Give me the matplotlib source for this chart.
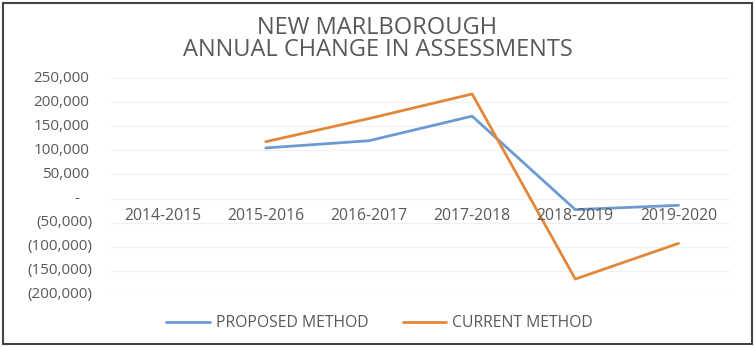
import matplotlib
matplotlib.use("Agg")
import matplotlib.pyplot as plt
from matplotlib.patches import Rectangle
from matplotlib.transforms import blended_transform_factory

# data
years = ["2014-2015", "2015-2016", "2016-2017", "2017-2018", "2018-2019", "2019-2020"]
proposed = [None, 105000, 120000, 171000, -23000, -14000]
current = [None, 118000, 166000, 217000, -167000, -93000]
y_ticks = [-200000, -150000, -100000, -50000, 0, 50000, 100000, 150000, 200000, 250000]

BLUE = "#6b9bd2"
ORANGE = "#e3873a"
TEXT = "#595959"

plt.rcParams["font.family"] = ["Open Sans", "DejaVu Sans"]

fig = plt.figure(figsize=(7.55, 3.47), dpi=100)
ax = fig.add_axes([0.147, 0.150, 0.820, 0.625])

xs = list(range(len(years)))
px = [x for x, v in zip(xs, proposed) if v is not None]
pv = [v for v in proposed if v is not None]
cx = [x for x, v in zip(xs, current) if v is not None]
cv = [v for v in current if v is not None]
ax.plot(px, pv, color=BLUE, lw=2.0, solid_capstyle="round", label="PROPOSED METHOD", zorder=3)
ax.plot(cx, cv, color=ORANGE, lw=2.0, solid_capstyle="round", label="CURRENT METHOD", zorder=3)

ax.set_xlim(-0.5, len(years) - 0.5)
ax.set_ylim(-200000, 250000)
ax.set_yticks(y_ticks)
ax.set_yticklabels([])
ax.tick_params(axis="y", length=0)
ax.grid(axis="y", color="#f1f1f1", lw=0.8)
ax.set_axisbelow(True)
ax.set_xticks([])
for s in ax.spines.values():
    s.set_visible(False)

# accounting-style y labels, digits lined up, negatives in brackets
ytr = blended_transform_factory(fig.transFigure, ax.transData)
for v in y_ticks:
    if v == 0:
        ax.text(0.102, v, "-", transform=ytr, ha="center", va="center", fontsize=11, color=TEXT)
    elif v < 0:
        ax.text(0.1225, v, f"({abs(v):,.0f})", transform=ytr, ha="right", va="center",
                fontsize=11, color=TEXT)
    else:
        ax.text(0.1180, v, f"{v:,.0f}", transform=ytr, ha="right", va="center",
                fontsize=11, color=TEXT)

# category labels sit just under the zero line
for x, lab in zip(xs, years):
    ax.annotate(lab, (x, 0), xytext=(0, -12.5), textcoords="offset points",
                ha="center", va="center", fontsize=11.3, color=TEXT)

fig.text(0.5, 0.920, "NEW MARLBOROUGH", ha="center", va="center", fontsize=17, color=TEXT)
fig.text(0.5, 0.856, "ANNUAL CHANGE IN ASSESSMENTS", ha="center", va="center", fontsize=17, color=TEXT)

fig.legend(loc="center", bbox_to_anchor=(0.503, 0.069), ncol=2, frameon=False,
           fontsize=11.3, labelcolor=TEXT, handlelength=2.75, handletextpad=0.4,
           columnspacing=2.2, borderpad=0)

fig.patches.append(Rectangle((0.004, 0.008), 0.992, 0.984, transform=fig.transFigure,
                             fill=False, edgecolor="#444444", lw=1.5))

fig.savefig("out.png", dpi=100)
